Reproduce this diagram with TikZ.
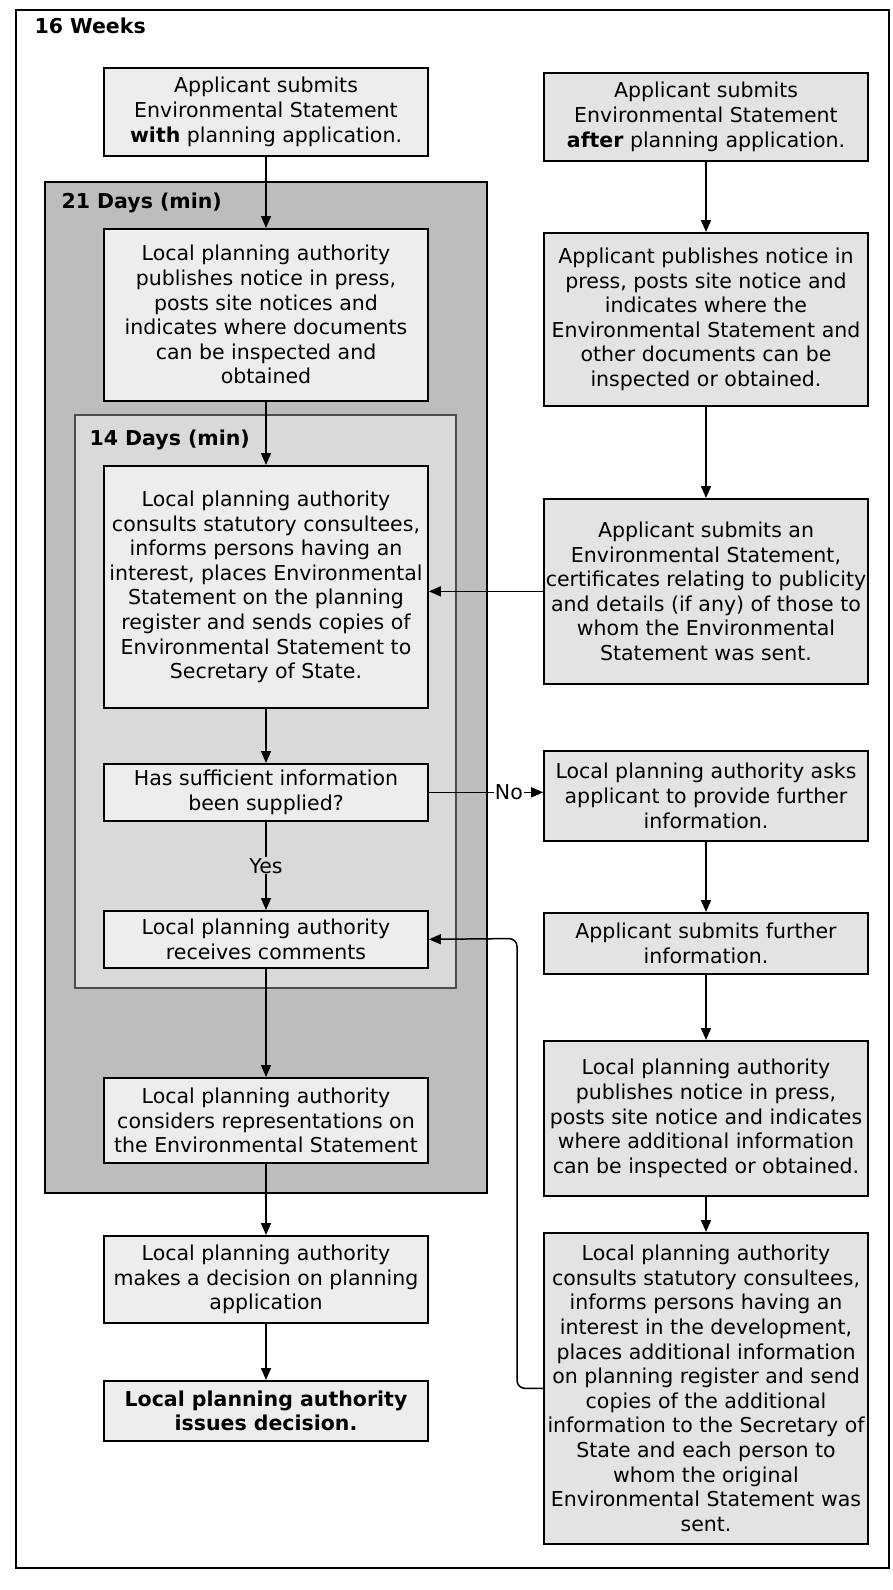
\documentclass[tikz,border=0pt]{standalone}
\usepackage{fontspec}
\setmainfont{DejaVu Sans}
\usetikzlibrary{arrows.meta}
\definecolor{esLight}{gray}{0.93}
\definecolor{esShade}{gray}{0.89}
\definecolor{esDark}{gray}{0.74}
\definecolor{esMid}{gray}{0.85}

\begin{document}
\begin{tikzpicture}[
    x=1pt, y=-1pt,
    font=\fontsize{20.5}{24.6}\selectfont,
    stage box/.style={draw, line width=1.7pt, fill=esLight, anchor=north, align=center, minimum width=324pt, inner sep=2pt},
    reply box/.style={stage box, fill=esShade},
    period frame/.style={draw, line width=2pt},
    period label/.style={anchor=base west, font=\fontsize{20.5}{24.6}\selectfont\bfseries},
    flow arrow/.style={draw, line width=1.5pt, -{Triangle[length=12pt,width=10pt]}},
    branch note/.style={inner sep=1pt}
]
  \useasboundingbox (0,0) rectangle (893,1590);

  % time frames
  \draw[period frame, fill=white] (16,10) rectangle (889,1568);
  \draw[period frame, line width=2.4pt, fill=esDark] (45,182) rectangle (487,1193);
  \draw[period frame, line width=1.2pt, draw=black!70, fill=esMid] (75,415) rectangle (456,988);
  \node[period label] (weeks) at (31,33) {16 Weeks};
  \node[period label] (days21) at (58,208) {21 Days (min)};
  \node[period label] (days14) at (86,445) {14 Days (min)};

  % left column
  \node[stage box, minimum height=88pt] (withApp) at (266,67)
    {Applicant submits\\Environmental Statement\\\textbf{with} planning application.};
  \node[stage box, minimum height=172pt] (lpaNotice) at (266,228)
    {Local planning authority\\publishes notice in press,\\posts site notices and\\indicates where documents\\can be inspected and\\obtained};
  \node[stage box, minimum height=242pt] (lpaConsult) at (266,465)
    {Local planning authority\\consults statutory consultees,\\informs persons having an\\interest, places Environmental\\Statement on the planning\\register and sends copies of\\Environmental Statement to\\Secretary of State.};
  \node[stage box, minimum height=57pt] (enough) at (266,763)
    {Has sufficient information\\been supplied?};
  \node[stage box, minimum height=57pt] (comments) at (266,910)
    {Local planning authority\\receives comments};
  \node[stage box, minimum height=85pt] (considers) at (266,1077)
    {Local planning authority\\considers representations on\\the Environmental Statement};
  \node[stage box, minimum height=87pt] (decides) at (266,1235)
    {Local planning authority\\makes a decision on planning\\application};
  \node[stage box, minimum height=60pt, font=\fontsize{20.5}{24.6}\selectfont\bfseries] (issues) at (266,1380)
    {Local planning authority\\issues decision.};

  % right column
  \node[reply box, minimum height=88pt] (afterApp) at (706,72)
    {Applicant submits\\Environmental Statement\\\textbf{after} planning application.};
  \node[reply box, minimum height=173pt] (appNotice) at (706,232)
    {Applicant publishes notice in\\press, posts site notice and\\indicates where the\\Environmental Statement and\\other documents can be\\inspected or obtained.};
  \node[reply box, minimum height=185pt] (appSubmits) at (706,498)
    {Applicant submits an\\Environmental Statement,\\certificates relating to publicity\\and details (if any) of those to\\whom the Environmental\\Statement was sent.};
  \node[reply box, minimum height=90pt] (asksMore) at (706,750)
    {Local planning authority asks\\applicant to provide further\\information.};
  \node[reply box, minimum height=61pt] (moreInfo) at (706,912)
    {Applicant submits further\\information.};
  \node[reply box, minimum height=155pt] (moreNotice) at (706,1040)
    {Local planning authority\\publishes notice in press,\\posts site notice and indicates\\where additional information\\can be inspected or obtained.};
  \node[reply box, minimum height=311pt] (moreConsult) at (706,1232)
    {Local planning authority\\consults statutory consultees,\\informs persons having an\\interest in the development,\\places additional information\\on planning register and send\\copies of the additional\\information to the Secretary of\\State and each person to\\whom the original\\Environmental Statement was\\sent.};

  \coordinate (loopTurn) at (517,938.5);

  % connectors
  \draw[flow arrow] (withApp) -- (lpaNotice);
  \draw[flow arrow] (lpaNotice) -- (lpaConsult);
  \draw[flow arrow] (lpaConsult) -- (enough);
  \draw[flow arrow] (enough) -- node[branch note, fill=esMid] {Yes} (comments);
  \draw[flow arrow] (comments) -- (considers);
  \draw[flow arrow] (considers) -- (decides);
  \draw[flow arrow] (decides) -- (issues);
  \draw[flow arrow] (afterApp) -- (appNotice);
  \draw[flow arrow] (appNotice) -- (appSubmits);
  \draw[flow arrow] (appSubmits.west) -- (lpaConsult.east |- appSubmits.west);
  \draw[flow arrow] (enough.east) -- node[branch note, fill=white, pos=0.7] {No} (enough.east -| asksMore.west);
  \draw[flow arrow] (asksMore) -- (moreInfo);
  \draw[flow arrow] (moreInfo) -- (moreNotice);
  \draw[flow arrow] (moreNotice) -- (moreConsult);
  \draw[flow arrow, rounded corners=8pt] (moreConsult.west) -| (loopTurn) -- (comments.east);
\end{tikzpicture}
\end{document}
